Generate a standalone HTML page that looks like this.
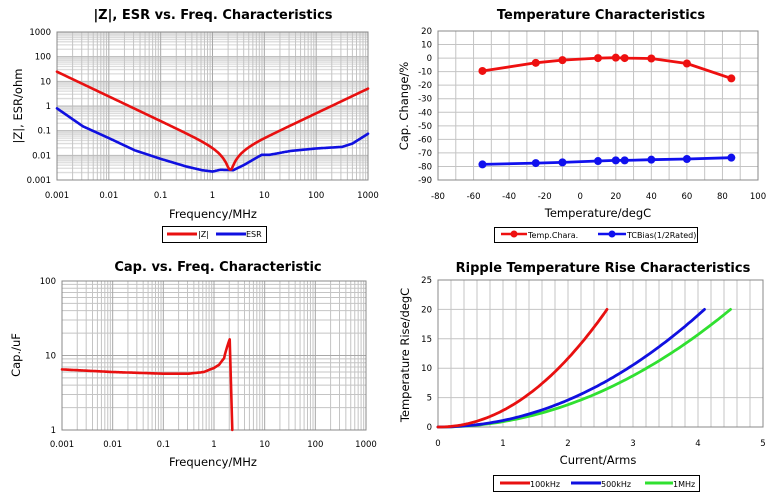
<!DOCTYPE html>
<html><head><meta charset="utf-8">
<style>
html,body{margin:0;padding:0;background:#fff;}
svg{display:block;font-family:"DejaVu Sans","Liberation Sans",sans-serif;}
.t{font-weight:bold;font-size:13px;}
.k{font-size:8.5px;}
.a{font-size:11.5px;}
.l{font-size:8px;}
</style></head><body>
<svg id="s" width="772" height="496" viewBox="0 0 772 496" xmlns="http://www.w3.org/2000/svg"></svg>
<script>
var s=document.getElementById('s'),h='';
function ln(x1,y1,x2,y2,c,w){h+='<line x1="'+x1+'" y1="'+y1+'" x2="'+x2+'" y2="'+y2+'" stroke="'+c+'" stroke-width="'+w+'"/>';}
function tx(x,y,t,cls,anc,extra){h+='<text x="'+x+'" y="'+y+'" class="'+cls+'" text-anchor="'+(anc||'middle')+'" '+(extra||'')+'>'+t+'</text>';}
function path(pts,c,w){var d='M'+pts.map(function(p){return p[0].toFixed(1)+','+p[1].toFixed(1)}).join('L');h+='<path d="'+d+'" fill="none" stroke="'+c+'" stroke-width="'+w+'" stroke-linejoin="round" stroke-linecap="round"/>';}
function interp(pts,lx){for(var i=0;i<pts.length-1;i++){if(lx<=pts[i+1][0]){var t=(lx-pts[i][0])/(pts[i+1][0]-pts[i][0]);return pts[i][1]+t*(pts[i+1][1]-pts[i][1]);}}return pts[pts.length-1][1];}
var L10=Math.log10;
// ---------- Chart 1 ----------
(function(){
var X0=57,X1=368,Y0=32,Y1=180;
var fx=function(f){return X0+(L10(f)+3)/6*(X1-X0)}, fy=function(v){return Y1-(L10(v)+3)/6*(Y1-Y0)};
for(var d=-3;d<3;d++)for(var m=2;m<10;m++){var v=m*Math.pow(10,d);ln(X0,fy(v),X1,fy(v),'#dcdcdc',1.3);}
for(var d=-3;d<3;d++)for(var m=2;m<10;m++){var x=fx(m*Math.pow(10,d));ln(x,Y0,x,Y1,'#c4c4c4',1);}
for(var d=-3;d<=3;d++){var x=fx(Math.pow(10,d));ln(x,Y0,x,Y1,'#a8a8a8',1);var y=fy(Math.pow(10,d));ln(X0,y,X1,y,'#b8b8b8',1);}
h+='<rect x="'+X0+'" y="'+Y0+'" width="'+(X1-X0)+'" height="'+(Y1-Y0)+'" fill="none" stroke="#888" stroke-width="1"/>';
var lab=['0.001','0.01','0.1','1','10','100','1000'];
for(var i=0;i<7;i++){tx(fx(Math.pow(10,i-3)),198,lab[i],'k');tx(X0-6,fy(Math.pow(10,i-3))+3,lab[i],'k','end');}
tx(213,19,'|Z|, ESR vs. Freq. Characteristics','t');
tx(213,218,'Frequency/MHz','a');
tx(22,106,'|Z|, ESR/ohm','a','middle','transform="rotate(-90 22 106)"');
var C=6.5e-6,Lh=8.05e-10,z=[],e=[];
var esr=[[-3,L10(0.8)],[-2.5,L10(0.15)],[-2,L10(0.05)],[-1.5,L10(0.016)],[-1,L10(0.0072)],[-0.5,L10(0.0035)],[-0.2,L10(0.0025)],[0,L10(0.0022)],[0.15,L10(0.0026)],[0.4,L10(0.0025)],[0.6,L10(0.004)],[0.85,L10(0.008)],[0.95,L10(0.0105)],[1.1,L10(0.0105)],[1.5,L10(0.015)],[2,L10(0.019)],[2.5,L10(0.022)],[2.7,L10(0.03)],[3,L10(0.075)]];
for(var lx=-3;lx<=3.0001;lx+=0.01){var f=Math.pow(10,lx)*1e6,w=2*Math.PI*f;var r=Math.pow(10,interp(esr,lx));var zz=Math.sqrt(Math.pow(1/(w*C)-w*Lh,2)+r*r);z.push([fx(f/1e6),fy(Math.max(zz,0.0027))]);e.push([fx(f/1e6),fy(r)]);}
path(e,'#1010e0',2.6);path(z,'#e81010',2.6);
h+='<rect x="162.5" y="226.5" width="104" height="16" fill="#fff" stroke="#000" stroke-width="1"/>';
ln(167,234,197,234,'#e81010',3);tx(198,237,'|Z|','l','start');
ln(216,234,246,234,'#1010e0',3);tx(246,237,'ESR','l','start');
})();
// ---------- Chart 2 ----------
(function(){
var X0=438,X1=758,Y0=31,Y1=180;
var fx=function(v){return X0+(v+80)/180*(X1-X0)},fy=function(v){return Y1-(v+90)/110*(Y1-Y0)};
for(var v=-80;v<=100;v+=10)ln(fx(v),Y0,fx(v),Y1,'#c4c4c4',1);
for(var v=-90;v<=20;v+=10)ln(X0,fy(v),X1,fy(v),'#c4c4c4',1);
h+='<rect x="'+X0+'" y="'+Y0+'" width="'+(X1-X0)+'" height="'+(Y1-Y0)+'" fill="none" stroke="#888" stroke-width="1"/>';
for(var v=-80;v<=100;v+=20)tx(fx(v),199,v,'k');
for(var v=-90;v<=20;v+=10)tx(X0-6,fy(v)+3,v,'k','end');
tx(601,19,'Temperature Characteristics','t');
tx(598,217,'Temperature/degC','a');
tx(408,106,'Cap. Change/%','a','middle','transform="rotate(-90 408 106)"');
var T=[-55,-25,-10,10,20,25,40,60,85],R=[-9.5,-3.5,-1.5,0,0.3,0,-0.3,-4,-15],B=[-78.5,-77.5,-77,-76,-75.5,-75.5,-75,-74.5,-73.5];
function ser(V,c){var p=T.map(function(t,i){return[fx(t),fy(V[i])]});path(p,c,2.8);p.forEach(function(q){h+='<circle cx="'+q[0]+'" cy="'+q[1]+'" r="4" fill="'+c+'"/>';});}
ser(R,'#ee1010');ser(B,'#1010ee');
h+='<rect x="494.5" y="227.5" width="203" height="15" fill="#fff" stroke="#000" stroke-width="1"/>';
ln(501,234,527,234,'#ee1010',2.5);h+='<circle cx="514" cy="234" r="3.5" fill="#ee1010"/>';tx(528,238,'Temp.Chara.','l','start');
ln(598,234,626,234,'#1010ee',2.5);h+='<circle cx="612" cy="234" r="3.5" fill="#1010ee"/>';tx(627,238,'TCBias(1/2Rated)','l','start');
})();
// ---------- Chart 3 ----------
(function(){
var X0=62,X1=366,Y0=281,Y1=430;
var fx=function(f){return X0+(L10(f)+3)/6*(X1-X0)},fy=function(v){return Y1-L10(v)/2*(Y1-Y0)};
for(var d=0;d<2;d++)for(var m=2;m<10;m++){var v=m*Math.pow(10,d);ln(X0,fy(v),X1,fy(v),'#c4c4c4',1);}
for(var d=-3;d<3;d++)for(var m=2;m<10;m++){var x=fx(m*Math.pow(10,d));ln(x,Y0,x,Y1,'#c4c4c4',1);}
for(var d=-3;d<=3;d++){var x=fx(Math.pow(10,d));ln(x,Y0,x,Y1,'#a8a8a8',1);}
ln(X0,fy(10),X1,fy(10),'#a8a8a8',1);
h+='<rect x="'+X0+'" y="'+Y0+'" width="'+(X1-X0)+'" height="'+(Y1-Y0)+'" fill="none" stroke="#888" stroke-width="1"/>';
var lab=['0.001','0.01','0.1','1','10','100','1000'];
for(var i=0;i<7;i++)tx(fx(Math.pow(10,i-3)),447,lab[i],'k');
tx(X0-6,Y0+3,'100','k','end');tx(X0-6,fy(10)+3,'10','k','end');tx(X0-6,Y1+3,'1','k','end');
tx(218,271,'Cap. vs. Freq. Characteristic','t');
tx(213,466,'Frequency/MHz','a');
tx(20,355,'Cap./uF','a','middle','transform="rotate(-90 20 355)"');
var cp=[[-3,6.5],[-2,6.0],[-1,5.7],[-0.5,5.7],[-0.2,6.0],[0,6.8],[0.1,7.5],[0.2,9.2],[0.31,16.5]],p=[];
for(var lx=-3;lx<=0.31;lx+=0.02){p.push([fx(Math.pow(10,lx)),fy(interp(cp,lx))]);}
p.push([fx(Math.pow(10,0.31)),fy(16.5)]);p.push([fx(2.3),Y1]);
path(p,'#e81010',2.6);
})();
// ---------- Chart 4 ----------
(function(){
var X0=438,X1=763,Y0=280,Y1=427;
var fx=function(v){return X0+v/5*(X1-X0)},fy=function(v){return Y1-v/25*(Y1-Y0)};
for(var v=0;v<=5.0001;v+=0.2)ln(fx(v),Y0,fx(v),Y1,'#c4c4c4',1);
for(var v=0;v<=25;v+=5)ln(X0,fy(v),X1,fy(v),'#c4c4c4',1);
h+='<rect x="'+X0+'" y="'+Y0+'" width="'+(X1-X0)+'" height="'+(Y1-Y0)+'" fill="none" stroke="#888" stroke-width="1"/>';
for(var v=0;v<=5;v++)tx(fx(v),446,v,'k');
for(var v=0;v<=25;v+=5)tx(X0-6,fy(v)+3,v,'k','end');
tx(603,272,'Ripple Temperature Rise Characteristics','t');
tx(598,464,'Current/Arms','a');
tx(409,355,'Temperature Rise/degC','a','middle','transform="rotate(-90 409 355)"');
function cur(Imax,c){var p=[];for(var i=0;i<=Imax+0.0001;i+=0.05){p.push([fx(i),fy(20*Math.pow(i/Imax,2.05))]);}path(p,c,2.8);}
cur(4.5,'#30e030');cur(4.1,'#1010e0');cur(2.6,'#e81010');
h+='<rect x="493.5" y="475.5" width="206" height="16" fill="#fff" stroke="#000" stroke-width="1"/>';
ln(500,483,530,483,'#e81010',3);tx(530,487,'100kHz','l','start');
ln(571,483,601,483,'#1010e0',3);tx(601,487,'500kHz','l','start');
ln(645,483,673,483,'#30e030',3);tx(673,487,'1MHz','l','start');
})();
s.innerHTML=h;
</script>
</body></html>
